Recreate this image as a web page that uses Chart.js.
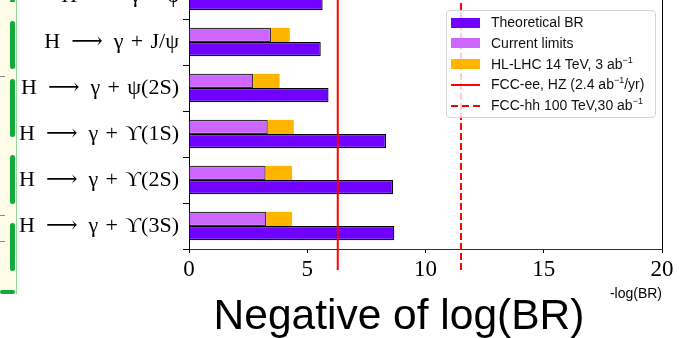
<!DOCTYPE html>
<html lang="en">
<head>
    <meta charset="UTF-8">
    <title>Negative of log(BR)</title>
    <script src="https://cdn.jsdelivr.net/npm/chart.js"></script>
    <style>
        body { margin: 0; width: 681px; height: 338px; overflow: hidden; background: #fff; position: relative; }
        #chartBox { position: absolute; left: 0; top: -47px; width: 681px; height: 385px; }
        #strip { position: absolute; left: 0; top: 0; width: 16px; height: 294px; background: #fffde8; border-right: 1px solid #8ed99b; }
        .seg { position: absolute; left: 10px; width: 5px; background: #12aa38; border-radius: 3px; }
        .tk { position: absolute; left: 0; width: 5px; height: 1px; background: #888; }
        #legend { position: absolute; left: 446px; top: 10px; width: 210px; height: 108px; box-sizing: border-box;
                  border: 1px solid #d4d4d4; border-radius: 4px; background: rgba(255,255,255,0.8);
                  font-family: "Liberation Sans", Arial, sans-serif; font-size: 14px; color: #111; padding-top: 1px; }
        #legend .row { position: relative; height: 20.8px; line-height: 20.8px; padding-left: 44px; white-space: nowrap; }
        #legend .sw { position: absolute; left: 4px; top: 5.5px; width: 29px; height: 10px; }
        #legend .ln { position: absolute; left: 4px; top: 9.5px; width: 29px; height: 2px; }
        #legend sup { font-size: 9px; line-height: 0; vertical-align: 6px; }
    </style>
</head>
<body>
    <div id="strip"></div>
    <div class="seg" style="top:0;height:2px"></div>
    <div class="seg" style="top:21px;height:48px"></div>
    <div class="seg" style="top:79px;height:58px"></div>
    <div class="seg" style="top:155px;height:49px"></div>
    <div class="seg" style="top:223px;height:48px"></div>
    <div class="seg" style="top:290px;left:0;width:15px;height:4px;border-radius:2px"></div>
    <div class="tk" style="top:76px"></div>
    <div class="tk" style="top:215px"></div>
    <div class="tk" style="top:241px"></div>

    <div id="chartBox"><canvas id="brChart"></canvas></div>
    <div id="legend"></div>

    <script>
        // channels, top to bottom
        const channels = ['H ⟶ γ + ϕ', 'H ⟶ γ + J/ψ', 'H ⟶ γ + ψ(2S)', 'H ⟶ γ + ϒ(1S)', 'H ⟶ γ + ϒ(2S)', 'H ⟶ γ + ϒ(3S)']
            .map(s => s.replace(' ⟶ ', '\u2002⟶\u2002').replace(' + ', '\u2004+\u2004'));
        // -log10(BR) values
        const theoretical = [5.65, 5.57, 5.90, 8.33, 8.63, 8.68];
        const currentLimits = [null, 3.47, 2.72, 3.33, 3.24, 3.27];
        const hlLhc = [null, 4.26, 3.83, 4.43, 4.36, 4.36];
        const xTicks = [0, 5, 10, 15, 20];
        const fccEE = 6.29;
        const fccHH = 11.5;

        const seriesNames = ['Theoretical BR', 'Current limits', 'HL-LHC 14 TeV, 3 ab<sup>−1</sup>',
                             'FCC-ee, HZ (2.4 ab<sup>−1</sup>/yr)', 'FCC-hh 100 TeV,30 ab<sup>−1</sup>'];
        const colTheory = '#7000ff';
        const colCurrent = '#cc66ff';
        const colHL = '#ffb400';

        // HL-LHC is stacked on top of the current limit, so only the extra reach is drawn
        const hlExtra = hlLhc.map((v, i) => v == null ? null : +(v - currentLimits[i]).toFixed(2));

        // legend
        const legendEl = document.getElementById('legend');
        const swatches = [
            '<span class="sw" style="background:' + colTheory + '"></span>',
            '<span class="sw" style="background:' + colCurrent + '"></span>',
            '<span class="sw" style="background:' + colHL + '"></span>',
            '<span class="ln" style="background:#ff0000"></span>',
            '<span class="ln" style="background:repeating-linear-gradient(90deg,#ff0000 0 7px,transparent 7px 11px)"></span>'
        ];
        seriesNames.forEach((name, i) => {
            legendEl.insertAdjacentHTML('beforeend', '<div class="row">' + swatches[i] + name + '</div>');
        });

        const OFF = 47; // canvas sits this far above the page top

        const extras = {
            id: 'extras',
            afterDatasetsDraw(chart) {
                const { ctx, chartArea, scales } = chart;
                ctx.save();
                ctx.strokeStyle = '#ff0000';
                ctx.lineWidth = 2;
                let x = scales.x.getPixelForValue(fccEE);
                ctx.beginPath();
                ctx.moveTo(x, chartArea.top);
                ctx.lineTo(x, chartArea.bottom + 21);
                ctx.stroke();
                x = scales.x.getPixelForValue(fccHH);
                ctx.setLineDash([7, 3]);
                ctx.beginPath();
                ctx.moveTo(x, chartArea.top);
                ctx.lineTo(x, chartArea.bottom + 21);
                ctx.stroke();
                ctx.setLineDash([]);
                // right frame edge
                ctx.strokeStyle = '#000';
                ctx.lineWidth = 1;
                ctx.beginPath();
                ctx.moveTo(chartArea.right + 0.5, chartArea.top);
                ctx.lineTo(chartArea.right + 0.5, chartArea.bottom);
                ctx.stroke();
                ctx.restore();
            },
            afterDraw(chart) {
                const { ctx, chartArea } = chart;
                ctx.save();
                ctx.fillStyle = '#000';
                ctx.textBaseline = 'alphabetic';
                ctx.font = '42.5px "Liberation Sans", Arial, sans-serif';
                ctx.textAlign = 'center';
                ctx.fillText('Negative of log(BR)', 399, 329 + OFF);
                ctx.font = '14px "Liberation Sans", Arial, sans-serif';
                ctx.textAlign = 'right';
                ctx.fillText('-log(BR)', chartArea.right, 298 + OFF);
                ctx.restore();
            }
        };

        new Chart(document.getElementById('brChart'), {
            type: 'bar',
            data: {
                labels: channels,
                datasets: [
                    { label: 'Current limits', data: currentLimits, stack: 'a', backgroundColor: colCurrent, borderColor: '#333', borderWidth: 1.3 },
                    { label: 'HL-LHC', data: hlExtra, stack: 'a', backgroundColor: colHL, borderWidth: 0 },
                    { label: 'Theoretical BR', data: theoretical, stack: 'b', backgroundColor: colTheory, borderColor: '#000', borderWidth: 1.3 }
                ]
            },
            options: {
                indexAxis: 'y',
                responsive: true,
                maintainAspectRatio: false,
                animation: false,
                categoryPercentage: 0.615,
                barPercentage: 1.0,
                layout: { padding: { top: 20, right: 19, left: 0, bottom: 0 } },
                plugins: { legend: { display: false }, tooltip: { enabled: false } },
                scales: {
                    x: {
                        type: 'linear',
                        stacked: true,
                        min: 0,
                        max: 20,
                        afterBuildTicks: (scale) => { scale.ticks = xTicks.map(v => ({ value: v })); },
                        afterFit: (scale) => { scale.height = 89; },
                        grid: { drawOnChartArea: false, drawTicks: true, tickLength: 4, color: '#000' },
                        border: { display: true, color: '#333', width: 1 },
                        ticks: { color: '#000', padding: 3, font: { family: '"Liberation Serif", serif', size: 23 } }
                    },
                    y: {
                        afterFit: (scale) => { scale.width = 189; },
                        grid: { drawOnChartArea: false, drawTicks: true, tickLength: 6, color: '#000' },
                        border: { display: true, color: '#000', width: 1 },
                        ticks: { color: '#000', padding: 4, font: { family: '"Liberation Serif", "DejaVu Serif", serif', size: 22 } }
                    }
                }
            },
            plugins: [extras]
        });
    </script>
</body>
</html>
